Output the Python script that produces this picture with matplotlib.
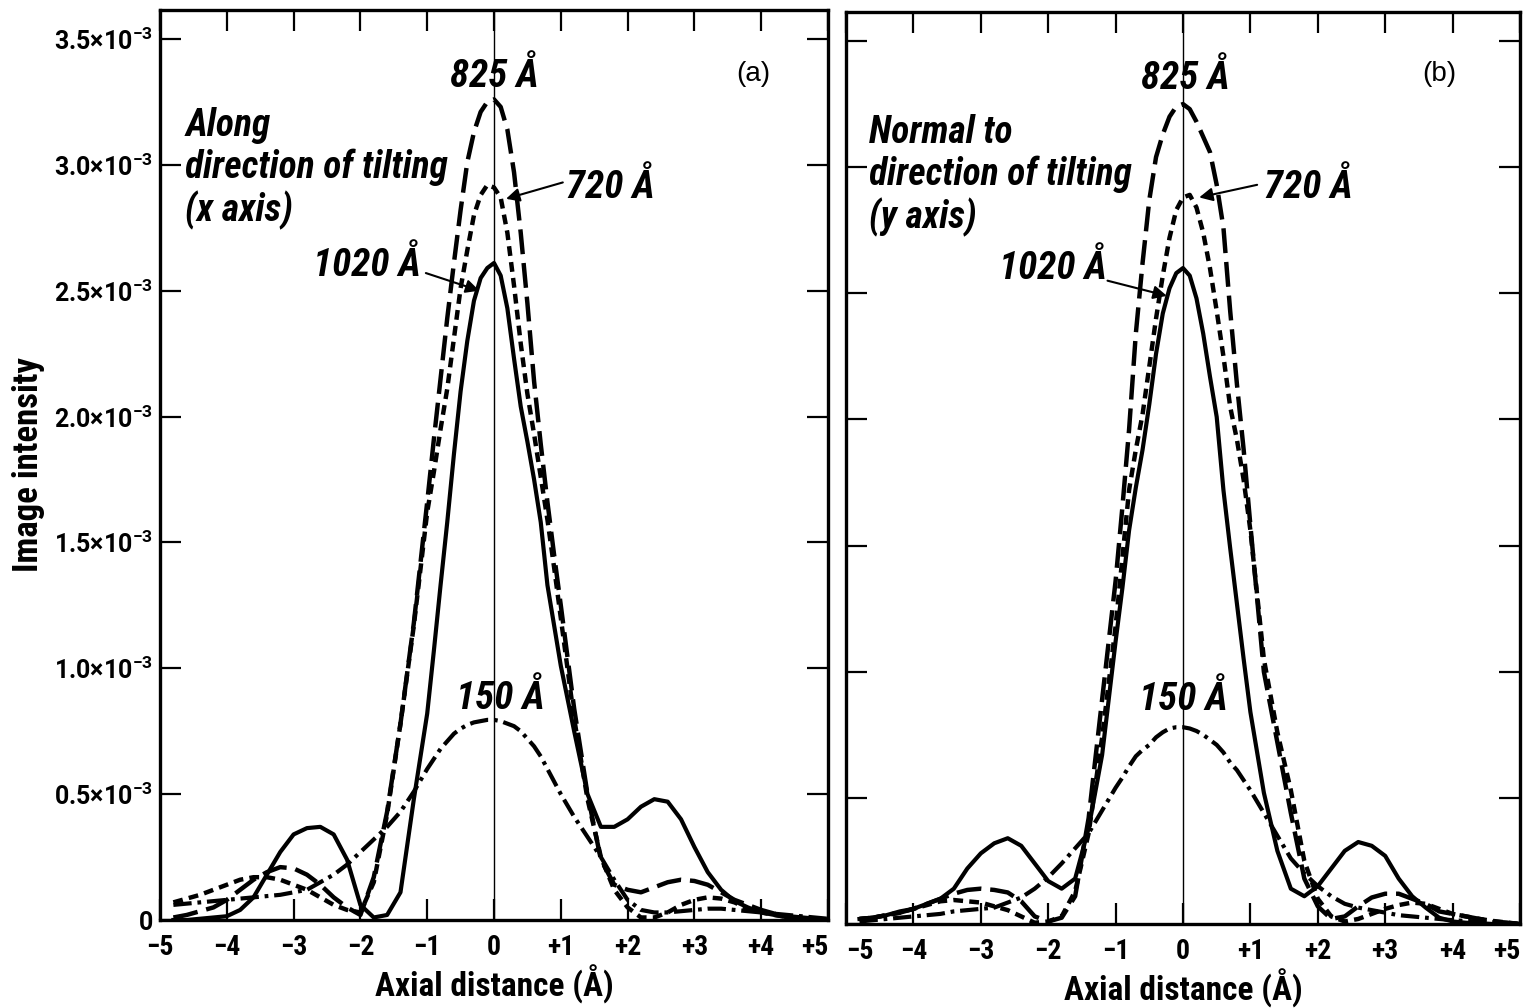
"""
Image intensity profiles along / normal to the direction of tilting
"""
import matplotlib
matplotlib.use("Agg")
import matplotlib.pyplot as plt

# ---- data (intensity in units of 1e-3) ----
X = [-4.8, -4.6, -4.4, -4.2, -4.0, -3.8, -3.6, -3.4, -3.2, -3.0,
     -2.8, -2.6, -2.4, -2.2, -2.0, -1.8, -1.6, -1.4, -1.2, -1.0,
     -0.9, -0.8, -0.7, -0.6, -0.5, -0.4, -0.3, -0.2, -0.1, 0.0,
     0.1, 0.2, 0.3, 0.4, 0.5, 0.6, 0.7, 0.8, 0.9, 1.0,
     1.2, 1.4, 1.6, 1.8, 2.0, 2.2, 2.4, 2.6, 2.8, 3.0,
     3.2, 3.4, 3.6, 3.8, 4.0, 4.2, 4.4, 4.6, 4.8, 5.0]

# (a) along direction of tilting
a_825 = [0.01, 0.02, 0.035, 0.05, 0.08, 0.12, 0.16, 0.19, 0.21, 0.205,
         0.18, 0.14, 0.09, 0.05, 0.02, 0.17, 0.43, 0.78, 1.18, 1.66,
         1.91, 2.15, 2.39, 2.61, 2.82, 3.01, 3.13, 3.21, 3.25, 3.26,
         3.23, 3.14, 2.97, 2.73, 2.45, 2.14, 1.89, 1.66, 1.45, 1.25,
         0.84, 0.50, 0.24, 0.14, 0.12, 0.11, 0.13, 0.15, 0.16, 0.155,
         0.14, 0.11, 0.08, 0.06, 0.04, 0.025, 0.015, 0.01, 0.005, 0.0]
a_720 = [0.07, 0.085, 0.10, 0.12, 0.14, 0.16, 0.17, 0.17, 0.16, 0.14,
         0.12, 0.09, 0.06, 0.04, 0.03, 0.15, 0.42, 0.78, 1.17, 1.62,
         1.78, 1.95, 2.11, 2.31, 2.51, 2.66, 2.80, 2.88, 2.92, 2.91,
         2.87, 2.73, 2.52, 2.29, 2.09, 1.93, 1.76, 1.59, 1.40, 1.20,
         0.80, 0.48, 0.25, 0.12, 0.05, 0.01, 0.01, 0.03, 0.06, 0.08,
         0.09, 0.085, 0.07, 0.045, 0.03, 0.02, 0.012, 0.008, 0.004, 0.0]
a_1020 = [0.0, 0.0, 0.005, 0.01, 0.015, 0.04, 0.09, 0.18, 0.27, 0.34,
          0.365, 0.37, 0.34, 0.24, 0.06, 0.01, 0.02, 0.11, 0.48, 0.82,
          1.07, 1.33, 1.58, 1.85, 2.10, 2.30, 2.46, 2.55, 2.59, 2.61,
          2.56, 2.43, 2.23, 2.04, 1.90, 1.75, 1.58, 1.33, 1.17, 1.01,
          0.75, 0.50, 0.37, 0.37, 0.40, 0.45, 0.48, 0.47, 0.40, 0.29,
          0.19, 0.12, 0.075, 0.05, 0.03, 0.02, 0.01, 0.007, 0.003, 0.0]
a_150 = [0.06, 0.065, 0.07, 0.075, 0.08, 0.085, 0.09, 0.095, 0.10, 0.11,
         0.12, 0.15, 0.18, 0.22, 0.27, 0.32, 0.37, 0.43, 0.51, 0.60,
         0.64, 0.68, 0.71, 0.74, 0.76, 0.775, 0.785, 0.79, 0.795, 0.795,
         0.79, 0.78, 0.77, 0.75, 0.72, 0.69, 0.65, 0.60, 0.55, 0.50,
         0.41, 0.33, 0.25, 0.16, 0.08, 0.04, 0.03, 0.03, 0.035, 0.04,
         0.045, 0.045, 0.04, 0.035, 0.03, 0.025, 0.02, 0.015, 0.01, 0.005]

# (b) normal to direction of tilting
b_825 = [0.02, 0.025, 0.035, 0.045, 0.06, 0.08, 0.10, 0.12, 0.135, 0.14,
         0.135, 0.125, 0.09, 0.03, 0.01, 0.025, 0.11, 0.42, 0.89, 1.36,
         1.65, 1.96, 2.34, 2.62, 2.87, 3.04, 3.13, 3.20, 3.24, 3.25,
         3.23, 3.18, 3.12, 3.06, 2.93, 2.76, 2.43, 2.14, 1.88, 1.58,
         1.00, 0.72, 0.44, 0.18, 0.07, 0.02, 0.03, 0.07, 0.105, 0.12,
         0.12, 0.10, 0.08, 0.05, 0.04, 0.03, 0.02, 0.01, 0.005, 0.0]
b_720 = [0.02, 0.025, 0.035, 0.045, 0.06, 0.075, 0.09, 0.095, 0.09, 0.085,
         0.07, 0.055, 0.03, 0.005, 0.01, 0.03, 0.13, 0.36, 0.74, 1.18,
         1.45, 1.72, 1.88, 2.02, 2.21, 2.40, 2.57, 2.72, 2.83, 2.88,
         2.89, 2.84, 2.74, 2.60, 2.43, 2.25, 2.05, 1.92, 1.76, 1.56,
         1.05, 0.76, 0.53, 0.25, 0.10, 0.03, 0.01, 0.02, 0.04, 0.06,
         0.075, 0.085, 0.08, 0.06, 0.04, 0.03, 0.02, 0.012, 0.006, 0.0]
b_1020 = [0.02, 0.025, 0.035, 0.05, 0.06, 0.08, 0.10, 0.14, 0.22, 0.28,
          0.32, 0.34, 0.31, 0.24, 0.17, 0.14, 0.18, 0.38, 0.67, 1.12,
          1.33, 1.56, 1.73, 1.88, 2.06, 2.26, 2.42, 2.52, 2.58, 2.60,
          2.57, 2.48, 2.34, 2.17, 2.01, 1.72, 1.49, 1.27, 1.05, 0.84,
          0.52, 0.29, 0.14, 0.11, 0.15, 0.22, 0.29, 0.325, 0.31, 0.27,
          0.18, 0.11, 0.065, 0.025, 0.01, 0.005, 0.003, 0.0, 0.0, 0.0]
b_150 = [0.01, 0.015, 0.02, 0.025, 0.03, 0.035, 0.04, 0.05, 0.055, 0.06,
         0.065, 0.085, 0.105, 0.14, 0.185, 0.24, 0.30, 0.36, 0.45, 0.54,
         0.58, 0.625, 0.665, 0.69, 0.71, 0.74, 0.76, 0.775, 0.78, 0.78,
         0.775, 0.765, 0.75, 0.73, 0.71, 0.68, 0.64, 0.61, 0.57, 0.53,
         0.44, 0.35, 0.26, 0.20, 0.15, 0.11, 0.08, 0.065, 0.055, 0.045,
         0.035, 0.03, 0.025, 0.02, 0.015, 0.012, 0.01, 0.008, 0.005, 0.0]

X_TICKS = [-5, -4, -3, -2, -1, 0, 1, 2, 3, 4, 5]
X_LABELS = ["\u22125", "\u22124", "\u22123", "\u22122", "\u22121", "0",
            "+1", "+2", "+3", "+4", "+5"]
Y_TICKS = [0, 0.5, 1.0, 1.5, 2.0, 2.5, 3.0, 3.5]
Y_LABELS = ["0"] + [r"%.1f×10$^{-3}$" % v for v in Y_TICKS[1:]]

SCALE = 1e-3
FONTS = ["Roboto Condensed", "Roboto", "DejaVu Sans"]

plt.rcParams["font.family"] = FONTS
plt.rcParams["mathtext.fontset"] = "custom"
plt.rcParams["mathtext.rm"] = "Roboto:bold"
plt.rcParams["mathtext.it"] = "Roboto:italic"
plt.rcParams["mathtext.bf"] = "Roboto:bold"

STYLES = {
    "825": dict(color="k", lw=3.2, dashes=(5.6, 2.0)),
    "720": dict(color="k", lw=3.2, dashes=(2.2, 1.4)),
    "1020": dict(color="k", lw=3.0),
    "150": dict(color="k", lw=3.0, dashes=(4.4, 1.4, 0.9, 1.4)),
}

LABEL_FONT = dict(fontsize=28, fontstyle="italic", fontweight="bold")


def draw_panel(ax, curves, note, tag, pos):
    for key, ys in curves:
        ax.plot(X, [v * SCALE for v in ys], **STYLES[key])
    ax.axvline(0, color="k", lw=1.0)

    ax.set_xlim(-5, 5)
    ax.set_ylim(0, 3.615e-3)
    ax.set_xticks(X_TICKS)
    ax.set_xticklabels(X_LABELS, fontweight="bold")
    ax.set_yticks([v * SCALE for v in Y_TICKS])
    ax.tick_params(direction="in", length=15, width=1.6, top=True, right=True)
    ax.tick_params(axis="x", labelsize=20, pad=10)
    ax.tick_params(axis="y", labelsize=18, pad=5)
    for s in ax.spines.values():
        s.set_linewidth(2.4)
    ax.set_xlabel("Axial distance (Å)", fontsize=24, fontweight="bold", labelpad=3)

    s = SCALE
    ax.text(pos["825"][0], pos["825"][1] * s, "825 Å", ha="center", va="center", **LABEL_FONT)
    ax.text(pos["720"][0], pos["720"][1] * s, "720 Å", ha="left", va="center", **LABEL_FONT)
    ax.text(pos["1020"][0], pos["1020"][1] * s, "1020 Å", ha="right", va="center", **LABEL_FONT)
    ax.text(pos["150"][0], pos["150"][1] * s, "150 Å", ha="center", va="center", **LABEL_FONT)
    ax.text(pos["note"][0], pos["note"][1] * s, note, ha="left", va="top",
            fontsize=27, fontstyle="italic", fontweight="bold", linespacing=1.15)
    ax.text(pos["tag"][0], pos["tag"][1] * s, tag, ha="center", va="center",
            fontsize=20, family=["Liberation Sans", "DejaVu Sans"])

    for a0, a1 in pos["arrows"]:
        ax.annotate("", xy=(a1[0], a1[1] * s), xytext=(a0[0], a0[1] * s),
                    arrowprops=dict(arrowstyle="-|>", lw=1.5, color="k",
                                    mutation_scale=20, shrinkA=0, shrinkB=0))


def main():
    fig = plt.figure(figsize=(15.31, 10.08), dpi=100)
    ax_a = fig.add_axes([160 / 1531, 88 / 1008, 668 / 1531, 910 / 1008])
    ax_b = fig.add_axes([846 / 1531, 84 / 1008, 674 / 1531, 912 / 1008])

    draw_panel(ax_a,
               [("150", a_150), ("720", a_720), ("825", a_825), ("1020", a_1020)],
               "Along\ndirection of tilting\n(x axis)", "(a)",
               {"825": (0.0, 3.35), "720": (1.08, 2.91), "1020": (-1.09, 2.60),
                "150": (0.1, 0.88), "note": (-4.62, 3.23), "tag": (3.88, 3.36),
                "arrows": [((1.03, 2.93), (0.18, 2.865)),
                           ((-1.02, 2.57), (-0.22, 2.50))]})
    draw_panel(ax_b,
               [("150", b_150), ("720", b_720), ("825", b_825), ("1020", b_1020)],
               "Normal to\ndirection of tilting\n(y axis)", "(b)",
               {"825": (0.03, 3.35), "720": (1.2, 2.92), "1020": (-1.13, 2.60),
                "150": (0.0, 0.89), "note": (-4.66, 3.21), "tag": (3.8, 3.37),
                "arrows": [((1.1, 2.93), (0.24, 2.88)),
                           ((-1.12, 2.55), (-0.24, 2.49))]})

    ax_a.set_yticklabels(Y_LABELS, fontweight="bold",
                         family=["Roboto", "DejaVu Sans"])
    ax_b.tick_params(labelleft=False)
    # end labels sit inside their own panel, as in the print
    ax_a.get_xticklabels()[-1].set_ha("right")
    ax_b.get_xticklabels()[0].set_ha("left")
    ax_b.get_xticklabels()[-1].set_ha("right")
    ax_a.set_ylabel("Image intensity", fontsize=25, fontweight="bold")
    ax_a.yaxis.set_label_coords(-0.172, 0.5)

    fig.savefig("out.png", dpi=100)


if __name__ == "__main__":
    main()
